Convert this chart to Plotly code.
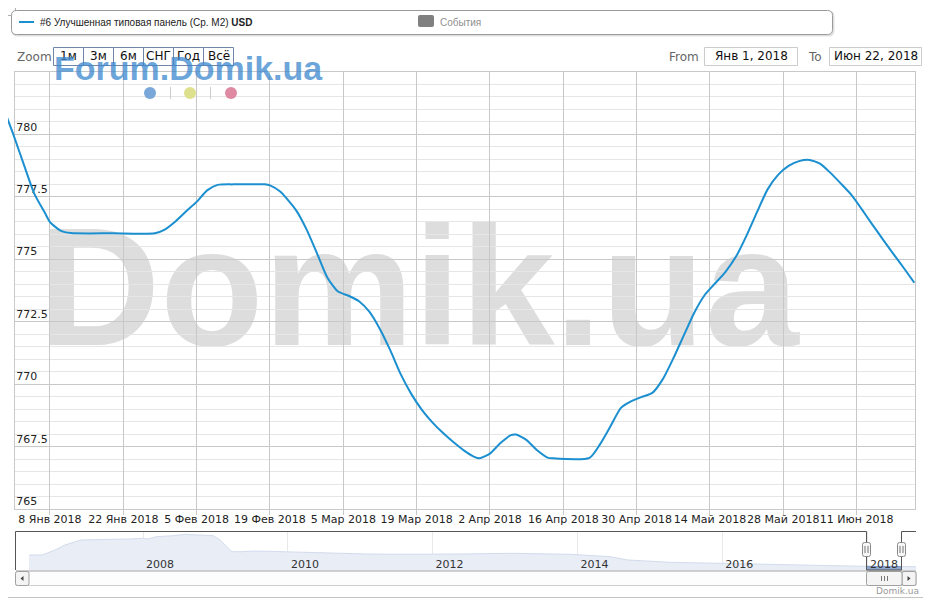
import plotly.graph_objects as go
import pandas as pd

# the page puts the figure 8px in from the top-left corner, so the figure is 8px smaller
OFF = 8
W, H = 931 - OFF, 600 - OFF

# ---------------- data ----------------
series_name = "#6 Улучшенная типовая панель (Ср. M2)"
currency = "USD"

dates = ["2017-12-30 07:00", "2018-01-01 00:00", "2018-01-03", "2018-01-05", "2018-01-07", "2018-01-08",
         "2018-01-10", "2018-01-12", "2018-01-20", "2018-01-28", "2018-01-30", "2018-02-01",
         "2018-02-03", "2018-02-05", "2018-02-07", "2018-02-09", "2018-02-12", "2018-02-18",
         "2018-02-19", "2018-02-21", "2018-02-24", "2018-02-26", "2018-02-28", "2018-03-02",
         "2018-03-04", "2018-03-06", "2018-03-08", "2018-03-10", "2018-03-12", "2018-03-14",
         "2018-03-16", "2018-03-18", "2018-03-20", "2018-03-22", "2018-03-24", "2018-03-26",
         "2018-03-28", "2018-03-30", "2018-03-31", "2018-04-02", "2018-04-04", "2018-04-06",
         "2018-04-07", "2018-04-09", "2018-04-11", "2018-04-13", "2018-04-14", "2018-04-21",
         "2018-04-23", "2018-04-25", "2018-04-27", "2018-04-29", "2018-05-01", "2018-05-03",
         "2018-05-05", "2018-05-07", "2018-05-09", "2018-05-11", "2018-05-13", "2018-05-15",
         "2018-05-17", "2018-05-19", "2018-05-21", "2018-05-23", "2018-05-25", "2018-05-27",
         "2018-05-29", "2018-05-31", "2018-06-02", "2018-06-04", "2018-06-06", "2018-06-08",
         "2018-06-10", "2018-06-12", "2018-06-14", "2018-06-16", "2018-06-18", "2018-06-20",
         "2018-06-22"]
values = [780.96, 780.0, 778.8, 777.63, 776.87, 776.49,
          776.15, 776.05, 776.04, 776.04, 776.2, 776.52,
          776.92, 777.3, 777.76, 777.98, 778.0, 778.0,
          777.96, 777.7, 776.96, 776.19, 775.23, 774.25,
          773.71, 773.54, 773.32, 772.89, 772.2, 771.34,
          770.38, 769.6, 768.97, 768.47, 768.05, 767.68,
          767.35, 767.09, 767.03, 767.22, 767.64, 767.96,
          767.98, 767.76, 767.35, 767.06, 767.03, 767.05,
          767.59, 768.31, 769.05, 769.32, 769.49, 769.65,
          770.2, 771.03, 771.95, 772.86, 773.57, 774.04,
          774.51, 775.12, 775.96, 776.9, 777.8, 778.38,
          778.74, 778.93, 778.98, 778.83, 778.46, 778.03,
          777.58, 777.0, 776.39, 775.8, 775.22, 774.65,
          774.06]

x_tick_dates = ["2018-01-08", "2018-01-22", "2018-02-05", "2018-02-19", "2018-03-05", "2018-03-19",
                "2018-04-02", "2018-04-16", "2018-04-30", "2018-05-14", "2018-05-28", "2018-06-11"]
x_tick_labels = ["8 Янв 2018", "22 Янв 2018", "5 Фев 2018", "19 Фев 2018", "5 Мар 2018", "19 Мар 2018",
                 "2 Апр 2018", "16 Апр 2018", "30 Апр 2018", "14 Май 2018", "28 Май 2018", "11 Июн 2018"]
y_tick_vals = [765, 767.5, 770, 772.5, 775, 777.5, 780, 782.5]
y_tick_labels = ["765", "767.5", "770", "772.5", "775", "777.5", "780", ""]

# navigator (full history)
nav_dates = ["2006-06-05", "2006-08-10", "2006-10-14", "2006-12-03", "2007-02-22", "2007-05-29",
             "2007-07-18", "2007-10-27", "2008-01-01", "2008-01-26", "2008-03-09", "2008-06-02",
             "2008-07-31", "2008-09-03", "2008-10-15", "2008-12-21", "2009-01-24", "2009-03-25",
             "2009-05-10", "2009-07-16", "2009-09-21", "2009-12-31", "2010-03-09", "2010-08-24",
             "2011-02-06", "2011-07-23", "2012-01-06", "2012-05-18", "2013-01-26", "2013-11-25",
             "2014-06-14", "2014-09-13", "2015-04-13", "2015-12-21", "2016-07-10", "2017-05-09",
             "2017-12-27", "2018-01-01", "2018-06-22", "2018-09-05"]
nav_values = [1074, 1074, 1204, 1334, 1464, 1464,
              1482, 1490, 1508, 1490, 1550, 1576,
              1612, 1602, 1594, 1576, 1464, 1160,
              1160, 1178, 1170, 1152, 1144, 1118,
              1100, 1092, 1092, 1100, 1118, 1092,
              1030, 944, 884, 858, 832, 796,
              780, 779, 775, 768]
nav_year_ticks = ["2008-01-01", "2010-01-01", "2012-01-01", "2014-01-01", "2016-01-01", "2018-01-01"]
nav_year_labels = ["2008", "2010", "2012", "2014", "2016", "2018"]
selected_from, selected_to = "2018-01-01", "2018-06-22"

range_buttons = ["1м", "3м", "6м", "СНГ", "Год", "Всё"]
from_label, to_label = "Янв 1, 2018", "Июн 22, 2018"

# ---------------- helpers (reference pixel -> paper) ----------------
def X(px):
    return (px - OFF) / W


def Y(py):
    return 1 - (py - OFF) / H


def rrect(x0, y0, x1, y1, r):
    return (f"M{X(x0 + r)},{Y(y0)} L{X(x1 - r)},{Y(y0)} Q{X(x1)},{Y(y0)} {X(x1)},{Y(y0 + r)} "
            f"L{X(x1)},{Y(y1 - r)} Q{X(x1)},{Y(y1)} {X(x1 - r)},{Y(y1)} "
            f"L{X(x0 + r)},{Y(y1)} Q{X(x0)},{Y(y1)} {X(x0)},{Y(y1 - r)} "
            f"L{X(x0)},{Y(y0 + r)} Q{X(x0)},{Y(y0)} {X(x0 + r)},{Y(y0)} Z")


def pline(points):
    return "M" + " L".join(f"{X(a)},{Y(b)}" for a, b in points)


LINE_COLOR = "#1b8fcf"
GRID = "#c8c8c8"
FONT = "DejaVu Sans"

fig = go.Figure()

fig.add_trace(go.Scatter(x=[], y=[], xaxis="x", yaxis="y", showlegend=False))
fig.add_trace(go.Scatter(x=pd.to_datetime(dates, format="ISO8601"), y=values, xaxis="x2", yaxis="y2",
                         mode="lines", line=dict(color=LINE_COLOR, width=2, shape="spline", smoothing=0.6),
                         showlegend=False, hoverinfo="skip"))

nd = pd.to_datetime(nav_dates, format="ISO8601")
fig.add_trace(go.Scatter(x=nd, y=nav_values, xaxis="x3", yaxis="y3", mode="lines",
                         line=dict(color="#d3dcec", width=1), fill="tozeroy", fillcolor="#e8edf6",
                         showlegend=False, hoverinfo="skip"))
sel = (nd >= pd.Timestamp(selected_from)) & (nd <= pd.Timestamp(selected_to))
fig.add_trace(go.Scatter(x=nd[sel], y=[v for v, s in zip(nav_values, sel) if s], xaxis="x3", yaxis="y3",
                         mode="lines", line=dict(color="#7d97c4", width=1), fill="tozeroy",
                         fillcolor="#8ea5cd", showlegend=False, hoverinfo="skip"))

x_main_range = ["2018-01-01 07:47", "2018-06-22 03:22"]
x_ext_range = ["2017-12-30 23:43", "2018-06-22 03:22"]
ydom = [Y(509), Y(72)]

fig.update_layout(
    width=W, height=H, margin=dict(l=0, r=0, t=0, b=0),
    paper_bgcolor="white", plot_bgcolor="rgba(0,0,0,0)",
    font=dict(family=FONT, size=11, color="#333333"),
    xaxis=dict(domain=[X(15), X(915)], range=x_main_range, anchor="y", type="date",
               tickmode="array", tickvals=x_tick_dates, ticktext=x_tick_labels, tickangle=0,
               showgrid=True, gridcolor=GRID, gridwidth=1, ticks="",
               showline=True, linecolor=GRID, mirror=True,
               tickfont=dict(family=FONT, size=11, color="#222222"), zeroline=False),
    yaxis=dict(domain=ydom, range=[765, 782.5], anchor="x",
               tickmode="array", tickvals=y_tick_vals, ticktext=y_tick_labels,
               ticklabelposition="inside top", ticks="",
               showgrid=True, gridcolor=GRID, showline=True, linecolor=GRID, mirror=True,
               minor=dict(tickmode="linear", tick0=765, dtick=0.5, showgrid=True, gridcolor="#e6e6e6"),
               tickfont=dict(family=FONT, size=11, color="#222222"), zeroline=False),
    # same scale as xaxis, used for the line (reaches a little further left) and the tick marks
    xaxis2=dict(domain=[0, X(915)], range=x_ext_range, anchor="y2", type="date", visible=True,
                showticklabels=False, showgrid=False, showline=False, zeroline=False,
                tickmode="array", tickvals=x_tick_dates, ticks="outside", ticklen=5, tickcolor=GRID),
    yaxis2=dict(domain=ydom, range=[765, 782.5], anchor="x2", visible=False),
    xaxis3=dict(domain=[X(16), X(916)], range=["2006-03-31", "2018-09-05"], anchor="free",
                position=Y(576), type="date", tickangle=0,
                tickmode="array", tickvals=nav_year_ticks, ticktext=nav_year_labels,
                ticklabelposition="inside right", ticklabelshift=3, ticks="", showgrid=True,
                gridcolor="#e9e9e9", showline=False, zeroline=False,
                tickfont=dict(family=FONT, size=11, color="#333333")),
    yaxis3=dict(domain=[Y(570), Y(531)], range=[684, 1698], anchor="x3", visible=False),
)

shapes = []
ann = []

shapes.append(dict(type="rect", xref="paper", yref="paper", x0=X(0), x1=X(837), y0=Y(330), y1=Y(210),
                   line=dict(width=0), fillcolor="rgba(0,0,0,0)", layer="below",
                   label=dict(text="Domik.ua", textposition="middle center",
                              font=dict(family="Liberation Sans", size=169, color="#dddddd", weight="bold"))))

shapes.append(dict(type="path", xref="paper", yref="paper", path=rrect(1, 1.5, 929, 597.5, 6),
                   line=dict(color="#c4c4c4", width=1)))
shapes.append(dict(type="path", xref="paper", yref="paper", path=rrect(0.5, 0.5, 15.5, 15.5, 3),
                   line=dict(color="#b0b0b0", width=1), fillcolor="white"))

shapes.append(dict(type="path", xref="paper", yref="paper", path=rrect(12.5, 11.5, 833.5, 35.5, 5),
                   line=dict(color="rgba(0,0,0,0.12)", width=2)))
shapes.append(dict(type="path", xref="paper", yref="paper", path=rrect(11.5, 10.5, 832.5, 34.5, 5),
                   line=dict(color="#999999", width=1), fillcolor="white"))
shapes.append(dict(type="line", xref="paper", yref="paper", x0=X(19), x1=X(34), y0=Y(22), y1=Y(22),
                   line=dict(color=LINE_COLOR, width=2)))
ann.append(dict(x=X(38), y=Y(22), xref="paper", yref="paper", xanchor="left", yanchor="middle",
                showarrow=False, text=f"{series_name} <b>{currency}</b>",
                font=dict(family="Liberation Sans", size=10, color="#222222")))
shapes.append(dict(type="path", xref="paper", yref="paper", path=rrect(418, 15, 434, 27, 2),
                   line=dict(width=0), fillcolor="#808080"))
ann.append(dict(x=X(438), y=Y(22), xref="paper", yref="paper", xanchor="left", yanchor="middle",
                showarrow=False, text="События",
                font=dict(family="Liberation Sans", size=10, color="#909090")))

ann.append(dict(x=X(15), y=Y(57), xref="paper", yref="paper", xanchor="left", yanchor="middle",
                showarrow=False, text="Zoom", font=dict(family=FONT, size=12, color="#666666")))
for i, b in enumerate(range_buttons):
    x0 = 53.5 + 30 * i
    shapes.append(dict(type="rect", xref="paper", yref="paper", x0=X(x0), x1=X(x0 + 30),
                       y0=Y(65.5), y1=Y(47.5), line=dict(color="#7085a8", width=1)))
    ann.append(dict(x=X(x0 + 15), y=Y(56.5), xref="paper", yref="paper", xanchor="center", yanchor="middle",
                    showarrow=False, text=b, font=dict(family=FONT, size=12, color="#111111")))
ann.append(dict(x=X(667), y=Y(57), xref="paper", yref="paper", xanchor="left", yanchor="middle",
                showarrow=False, text="From", font=dict(family=FONT, size=12, color="#666666")))
ann.append(dict(x=X(806), y=Y(57), xref="paper", yref="paper", xanchor="left", yanchor="middle",
                showarrow=False, text="To", font=dict(family=FONT, size=12, color="#666666")))
for (x0, x1, t) in [(704.5, 797.5, from_label), (829.5, 921.5, to_label)]:
    shapes.append(dict(type="rect", xref="paper", yref="paper", x0=X(x0), x1=X(x1),
                       y0=Y(65.5), y1=Y(47.5), line=dict(color="#cccccc", width=1)))
    ann.append(dict(x=X((x0 + x1) / 2), y=Y(56.5), xref="paper", yref="paper", xanchor="center",
                    yanchor="middle", showarrow=False, text=t,
                    font=dict(family=FONT, size=12, color="#111111")))

ann.append(dict(x=X(52), y=Y(67.5), xref="paper", yref="paper", xanchor="left", yanchor="middle",
                showarrow=False, text="<b>Forum.Domik.ua</b>",
                font=dict(family="Liberation Sans", size=34, color="rgba(60,135,205,0.75)")))
for cx, col in [(150, "#7aa7d9"), (190, "#dfe08e"), (231, "#df8aa2")]:
    shapes.append(dict(type="circle", xref="paper", yref="paper", x0=X(cx - 6), x1=X(cx + 6),
                       y0=Y(99), y1=Y(87), line=dict(width=0), fillcolor=col))
for sx in [170.5, 210.5]:
    shapes.append(dict(type="line", xref="paper", yref="paper", x0=X(sx), x1=X(sx), y0=Y(87), y1=Y(99),
                       line=dict(color="#cccccc", width=1)))

shapes.append(dict(type="line", xref="paper", yref="paper", x0=X(16), x1=X(916), y0=Y(570.5), y1=Y(570.5),
                   line=dict(color="#cccccc", width=1)))
shapes.append(dict(type="path", xref="paper", yref="paper",
                   path=pline([(15.5, 570), (15.5, 531.5), (866.5, 531.5), (866.5, 570), (901.5, 570),
                               (901.5, 531.5), (916, 531.5)]),
                   line=dict(color="#555555", width=1)))
for hx in [866.5, 901.5]:
    shapes.append(dict(type="path", xref="paper", yref="paper", path=rrect(hx - 4, 542.5, hx + 4, 556.5, 2),
                       line=dict(color="#8a8a8a", width=1), fillcolor="#f6f6f6"))
    for lx in [hx - 1.5, hx + 1.5]:
        shapes.append(dict(type="line", xref="paper", yref="paper", x0=X(lx), x1=X(lx), y0=Y(546), y1=Y(553),
                           line=dict(color="#777777", width=1)))
shapes.append(dict(type="rect", xref="paper", yref="paper", x0=X(16), x1=X(916), y0=Y(585.5), y1=Y(571.5),
                   line=dict(color="#d0d0d0", width=1), fillcolor="#fdfdfd"))
for bx0, bx1 in [(15.5, 29), (902, 916)]:
    shapes.append(dict(type="path", xref="paper", yref="paper", path=rrect(bx0, 571.5, bx1, 585.5, 2),
                       line=dict(color="#a0a0a0", width=1), fillcolor="#f4f4f4"))
shapes.append(dict(type="path", xref="paper", yref="paper",
                   path=pline([(23.5, 576), (23.5, 581), (20.5, 578.5)]) + " Z",
                   line=dict(width=0), fillcolor="#444444"))
shapes.append(dict(type="path", xref="paper", yref="paper",
                   path=pline([(907.5, 576), (907.5, 581), (910.5, 578.5)]) + " Z",
                   line=dict(width=0), fillcolor="#444444"))
shapes.append(dict(type="path", xref="paper", yref="paper", path=rrect(866.5, 571.5, 902, 585.5, 2),
                   line=dict(color="#a0a0a0", width=1), fillcolor="#f4f4f4"))
for gx in [881.5, 884.5, 887.5]:
    shapes.append(dict(type="line", xref="paper", yref="paper", x0=X(gx), x1=X(gx), y0=Y(576), y1=Y(581),
                       line=dict(color="#777777", width=1)))

ann.append(dict(x=X(921), y=Y(591), xref="paper", yref="paper", xanchor="right", yanchor="middle",
                showarrow=False, text="Domik.ua", font=dict(family=FONT, size=9, color="#999999")))

fig.update_layout(shapes=shapes, annotations=ann)
fig.write_html("out.html")
